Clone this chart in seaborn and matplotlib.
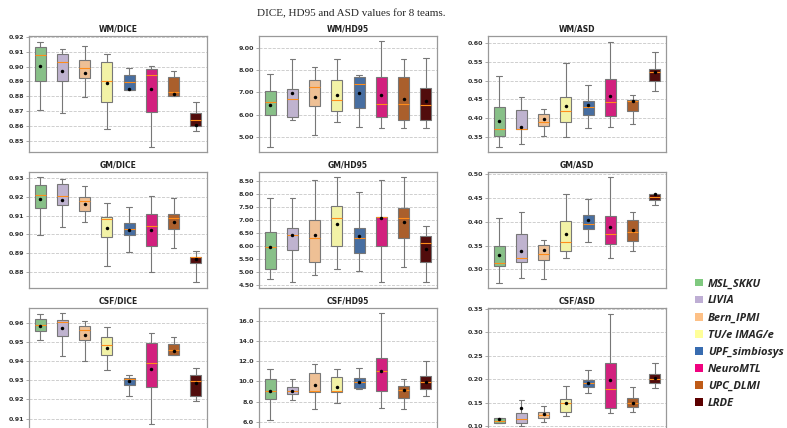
import numpy as np
import pandas as pd
import matplotlib
matplotlib.use("Agg")
import matplotlib.pyplot as plt
import seaborn as sns
from matplotlib.patches import Patch
from matplotlib.ticker import FormatStrFormatter

teams = ["MSL_SKKU", "LIVIA", "Bern_IPMI", "TU/e IMAG/e",
         "UPF_simbiosys", "NeuroMTL", "UPC_DLMI", "LRDE"]
colors = ["#7fc97f", "#beaed4", "#fdc086", "#ffff99",
          "#386cb0", "#f0027f", "#bf5b17", "#5c0000"]

# box stats per panel: whisker low, q1, median, q3, whisker high, mean
wm_dice = dict(
    lo=[0.8707, 0.8689, 0.8796, 0.8580, 0.8840, 0.8462, 0.8800, 0.8567],
    q1=[0.8900, 0.8904, 0.8922, 0.8764, 0.8840, 0.8696, 0.8800, 0.8600],
    med=[0.9078, 0.9031, 0.8991, 0.8904, 0.8898, 0.8942, 0.8827, 0.8640],
    q3=[0.9129, 0.9084, 0.9042, 0.9029, 0.8942, 0.8984, 0.8929, 0.8691],
    hi=[0.9164, 0.9116, 0.9138, 0.9087, 0.8991, 0.9007, 0.8969, 0.8764],
    mean=[0.9004, 0.8967, 0.8958, 0.8893, 0.8851, 0.8851, 0.8818, 0.8609])
wm_hd95 = dict(
    lo=[4.57, 5.76, 5.09, 5.66, 5.46, 5.40, 5.40, 5.40],
    q1=[6.00, 5.91, 6.40, 6.16, 6.31, 5.91, 5.75, 5.75],
    med=[6.55, 6.69, 7.22, 6.66, 7.36, 6.46, 6.46, 6.42],
    q3=[7.07, 7.13, 7.54, 7.54, 7.69, 7.69, 7.69, 7.19],
    hi=[7.82, 8.48, 8.12, 8.48, 7.79, 9.30, 8.48, 8.55],
    mean=[6.45, 6.97, 6.78, 6.90, 6.99, 6.87, 6.69, 6.61])
wm_asd = dict(
    lo=[0.323, 0.330, 0.352, 0.350, 0.372, 0.375, 0.383, 0.473],
    q1=[0.352, 0.370, 0.378, 0.389, 0.407, 0.405, 0.419, 0.499],
    med=[0.370, 0.371, 0.389, 0.418, 0.430, 0.442, 0.446, 0.522],
    q3=[0.429, 0.420, 0.410, 0.455, 0.444, 0.505, 0.448, 0.532],
    hi=[0.511, 0.455, 0.425, 0.548, 0.489, 0.604, 0.462, 0.577],
    mean=[0.391, 0.376, 0.397, 0.433, 0.435, 0.458, 0.446, 0.524])
gm_dice = dict(
    lo=[0.8996, 0.9038, 0.9067, 0.8834, 0.8905, 0.8802, 0.8930, 0.8748],
    q1=[0.9138, 0.9154, 0.9127, 0.8985, 0.8996, 0.8939, 0.9030, 0.8848],
    med=[0.9209, 0.9202, 0.9177, 0.9081, 0.9031, 0.9044, 0.9085, 0.8880],
    q3=[0.9261, 0.9268, 0.9200, 0.9094, 0.9062, 0.9106, 0.9106, 0.8882],
    hi=[0.9304, 0.9295, 0.9257, 0.9167, 0.9145, 0.9206, 0.9193, 0.8914],
    mean=[0.9190, 0.9183, 0.9161, 0.9035, 0.9026, 0.9022, 0.9067, 0.8871])
gm_hd95 = dict(
    lo=[4.73, 4.62, 4.91, 5.13, 5.04, 4.62, 5.22, 4.62],
    q1=[5.12, 5.85, 5.41, 6.01, 5.76, 6.01, 6.33, 5.40],
    med=[5.99, 6.42, 6.32, 7.08, 6.31, 7.12, 7.08, 6.14],
    q3=[6.56, 6.71, 7.00, 7.54, 6.71, 7.13, 7.47, 6.40],
    hi=[7.86, 7.86, 8.53, 8.65, 8.10, 8.53, 8.65, 6.78],
    mean=[5.99, 6.42, 6.45, 6.86, 6.40, 7.10, 6.94, 5.88])
gm_asd = dict(
    lo=[0.271, 0.283, 0.280, 0.324, 0.358, 0.324, 0.338, 0.435],
    q1=[0.307, 0.315, 0.320, 0.339, 0.385, 0.354, 0.360, 0.446],
    med=[0.314, 0.324, 0.333, 0.358, 0.395, 0.374, 0.379, 0.452],
    q3=[0.349, 0.375, 0.351, 0.401, 0.414, 0.412, 0.403, 0.458],
    hi=[0.408, 0.421, 0.362, 0.458, 0.449, 0.494, 0.420, 0.459],
    mean=[0.330, 0.338, 0.340, 0.374, 0.405, 0.389, 0.383, 0.458])
csf_dice = dict(
    lo=[0.9512, 0.9424, 0.9402, 0.9351, 0.9219, 0.9069, 0.9430, 0.9192],
    q1=[0.9556, 0.9529, 0.9512, 0.9430, 0.9274, 0.9265, 0.9430, 0.9219],
    med=[0.9589, 0.9604, 0.9563, 0.9486, 0.9308, 0.9389, 0.9460, 0.9295],
    q3=[0.9622, 0.9615, 0.9582, 0.9523, 0.9314, 0.9496, 0.9488, 0.9325],
    hi=[0.9644, 0.9649, 0.9609, 0.9576, 0.9329, 0.9545, 0.9523, 0.9366],
    mean=[0.9584, 0.9573, 0.9538, 0.9468, 0.9295, 0.9356, 0.9453, 0.9283])
csf_hd95 = dict(
    lo=[6.17, 8.14, 7.30, 7.91, 9.24, 7.37, 7.30, 8.58],
    q1=[8.31, 8.78, 8.98, 8.98, 9.31, 9.01, 8.41, 9.24],
    med=[9.08, 9.10, 9.01, 9.04, 9.91, 11.08, 9.14, 9.91],
    q3=[10.25, 9.44, 10.85, 10.48, 10.35, 12.29, 9.51, 10.51],
    hi=[11.25, 10.25, 11.72, 11.25, 11.38, 16.80, 10.28, 12.05],
    mean=[9.08, 9.04, 9.65, 9.44, 9.91, 11.08, 9.14, 9.91])
csf_asd = dict(
    lo=[0.106, 0.100, 0.110, 0.121, 0.170, 0.128, 0.131, 0.181],
    q1=[0.107, 0.106, 0.118, 0.130, 0.183, 0.139, 0.141, 0.192],
    med=[0.111, 0.115, 0.125, 0.150, 0.192, 0.180, 0.150, 0.200],
    q3=[0.118, 0.128, 0.130, 0.158, 0.199, 0.235, 0.161, 0.212],
    hi=[0.118, 0.157, 0.143, 0.186, 0.220, 0.340, 0.184, 0.234],
    mean=[0.116, 0.138, 0.127, 0.150, 0.193, 0.199, 0.150, 0.202])

# title, stats, y limits, y ticks, tick format
panels = [
    ("WM/DICE", wm_dice, (0.8427, 0.9205), np.arange(0.85, 0.925, 0.01), "%.2f"),
    ("WM/HD95", wm_hd95, (4.33, 9.52), np.arange(5, 9.5, 1.0), "%.2f"),
    ("WM/ASD", wm_asd, (0.309, 0.619), np.arange(0.35, 0.625, 0.05), "%.2f"),
    ("GM/DICE", gm_dice, (0.8715, 0.9332), np.arange(0.88, 0.935, 0.01), "%.2f"),
    ("GM/HD95", gm_hd95, (4.40, 8.85), np.arange(4.5, 8.75, 0.5), "%.2f"),
    ("GM/ASD", gm_asd, (0.261, 0.505), np.arange(0.30, 0.525, 0.05), "%.2f"),
    ("CSF/DICE", csf_dice, (0.9040, 0.9677), np.arange(0.91, 0.965, 0.01), "%.2f"),
    ("CSF/HD95", csf_hd95, (5.2, 17.27), np.arange(6, 17, 2.0), "%.1f"),
    ("CSF/ASD", csf_asd, (0.092, 0.352), np.arange(0.10, 0.36, 0.05), "%.2f"),
]

W, H = 787, 428
fig = plt.figure(figsize=(W / 100, H / 100), dpi=100)
sns.set_style("white")

col_left = [29, 259, 488]
row_top = [36, 172, 308]
ax_w, ax_h = 178, 116

for i, (title, st, ylim, yt, fmt) in enumerate(panels):
    r, c = divmod(i, 3)
    h = ax_h if r < 2 else 122
    ax = fig.add_axes([col_left[c] / W, 1 - (row_top[r] + h) / H, ax_w / W, h / H])
    rows = []
    for k, t in enumerate(teams):
        for key in ["lo", "q1", "med", "q3", "hi"]:
            rows.append((t, st[key][k]))
    df = pd.DataFrame(rows, columns=["team", "value"])
    means = pd.DataFrame({"team": teams, "mean": st["mean"]})

    ax.yaxis.grid(True, linestyle="--", color="#c8c8c8", linewidth=0.6)
    ax.set_axisbelow(True)
    sns.boxplot(data=df, x="team", y="value", hue="team", order=teams,
                hue_order=teams, palette=colors, width=0.5, whis=(0, 100),
                showfliers=False, linecolor="#777777", linewidth=0.8,
                medianprops=dict(color="#ff8c1a", linewidth=0.8),
                legend=False, ax=ax)
    sns.stripplot(data=means, x="team", y="mean", order=teams, color="black",
                  size=2.5, jitter=False, ax=ax, zorder=5)
    ax.set_xlim(-0.5, 7.5)
    ax.set_ylim(*ylim)
    ax.set_yticks(yt)
    ax.yaxis.set_major_formatter(FormatStrFormatter(fmt))
    ax.set_xticks([])
    ax.set_xlabel("")
    ax.set_ylabel("")
    ax.tick_params(axis="y", labelsize=4.6, length=2, width=0.5,
                   color="#888888", pad=1.5, left=True)
    for lab in ax.get_yticklabels():
        lab.set_fontweight("bold")
        lab.set_color("#333333")
    for sp in ax.spines.values():
        sp.set_color("#999999")
        sp.set_linewidth(0.9)
    ax.set_title(title, fontsize=5.5, fontweight="bold", pad=3, color="#222222")

fig.text(0.446, 0.969, "DICE, HD95 and ASD values for 8 teams.",
         ha="center", va="center", fontsize=8, family="Liberation Serif")

handles = [Patch(facecolor=col, edgecolor="none") for col in colors]
leg = fig.legend(handles, teams, loc="upper left", bbox_to_anchor=(0.878, 0.36),
                 frameon=False, handlelength=0.7, handleheight=0.7,
                 handletextpad=0.45, labelspacing=0.55, borderaxespad=0,
                 prop=dict(family=["Open Sans", "DejaVu Sans"], size=8,
                           weight="bold", style="italic"))

fig.savefig("out.png", dpi=100)
